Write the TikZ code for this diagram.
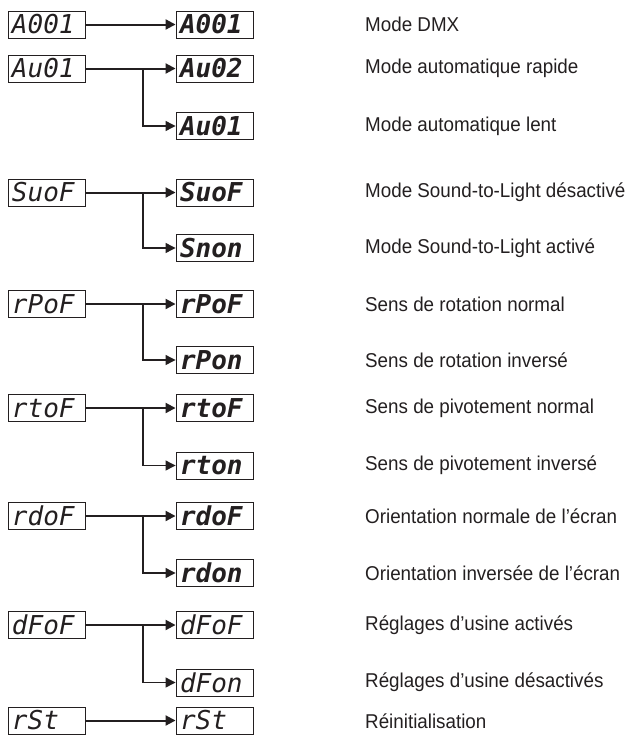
\documentclass[tikz,border=0pt]{standalone}
\usepackage{fontspec}
\setmainfont{Liberation Sans}[FakeStretch=0.94]
\newfontfamily\segfont{DejaVu Sans Mono}
\usetikzlibrary{arrows.meta}
\definecolor{ink}{HTML}{231F20}
\begin{document}
\begin{tikzpicture}[x=1pt,y=-1pt,
  disp/.style={draw=ink, line width=0.9pt, minimum height=27pt, text width=69pt,
    inner xsep=4pt, inner ysep=0pt, align=left, font=\segfont\itshape\fontsize{26}{26}\selectfont, text=ink},
  dispb/.style={disp, font=\segfont\itshape\bfseries\fontsize{26}{26}\selectfont},
  desc/.style={anchor=west, inner sep=0pt, font=\fontsize{20}{22}\selectfont, text=ink},
  mainarrow/.style={draw=ink, line width=2pt, -{Triangle[length=10pt,width=10pt]}},
  brancharrow/.style={draw=ink, line width=1.2pt, -{Triangle[length=10pt,width=10pt]}}]
\useasboundingbox (0,0) rectangle (632,736);
\coordinate (B) at (143,0);
% left column
\node[disp] (L1) at (46.5,24.5) {A001};
\node[disp] (L2) at (46.5,68.5) {Au01};
\node[disp] (L3) at (46.5,192.5) {SuoF};
\node[disp] (L4) at (46.5,304) {rPoF};
\node[disp] (L5) at (46.5,408) {rtoF};
\node[disp] (L6) at (46.5,516) {rdoF};
\node[disp] (L7) at (46.5,625) {dFoF};
\node[disp] (L8) at (46.5,720.5) {rSt};
% right column
\node[dispb] (R1) at (214.5,24.5) {A001};
\node[dispb] (R2) at (214.5,68.5) {Au02};
\node[dispb] (R3) at (214.5,126) {Au01};
\node[dispb] (R4) at (214.5,192.5) {SuoF};
\node[dispb] (R5) at (214.5,248) {Snon};
\node[dispb] (R6) at (214.5,304) {rPoF};
\node[dispb] (R7) at (214.5,360) {rPon};
\node[dispb] (R8) at (214.5,408) {rtoF};
\node[dispb] (R9) at (214.5,465.5) {rton};
\node[dispb] (R10) at (214.5,516) {rdoF};
\node[dispb] (R11) at (214.5,573) {rdon};
\node[disp] (R12) at (214.5,625) {dFoF};
\node[disp] (R13) at (214.5,682.5) {dFon};
\node[disp] (R14) at (214.5,720.5) {rSt};
% descriptions
\node[desc] (D1) at (365,24.5) {Mode DMX};
\node[desc] (D2) at (365,68.5) {Mode automatique rapide};
\node[desc] (D3) at (365,126) {Mode automatique lent};
\node[desc] (D4) at (365,192.5) {Mode Sound-to-Light désactivé};
\node[desc] (D5) at (365,248) {Mode Sound-to-Light activé};
\node[desc] (D6) at (365,304) {Sens de rotation normal};
\node[desc] (D7) at (365,360) {Sens de rotation inversé};
\node[desc] (D8) at (365,408) {Sens de pivotement normal};
\node[desc] (D9) at (365,465.5) {Sens de pivotement inversé};
\node[desc] (D10) at (365,516) {Orientation normale de l’écran};
\node[desc] (D11) at (365,573) {Orientation inversée de l’écran};
\node[desc] (D12) at (365,625) {Réglages d’usine activés};
\node[desc] (D13) at (365,682.5) {Réglages d’usine désactivés};
\node[desc] (D14) at (365,721) {Réinitialisation};
% connectors
\draw[mainarrow] (L1) -- (R1);
\draw[mainarrow] (L2) -- (R2);
\draw[brancharrow] (L2.east -| B) |- (R3.west);
\draw[mainarrow] (L3) -- (R4);
\draw[brancharrow] (L3.east -| B) |- (R5.west);
\draw[mainarrow] (L4) -- (R6);
\draw[brancharrow] (L4.east -| B) |- (R7.west);
\draw[mainarrow] (L5) -- (R8);
\draw[brancharrow] (L5.east -| B) |- (R9.west);
\draw[mainarrow] (L6) -- (R10);
\draw[brancharrow] (L6.east -| B) |- (R11.west);
\draw[mainarrow] (L7) -- (R12);
\draw[brancharrow] (L7.east -| B) |- (R13.west);
\draw[mainarrow] (L8) -- (R14);
\end{tikzpicture}
\end{document}
